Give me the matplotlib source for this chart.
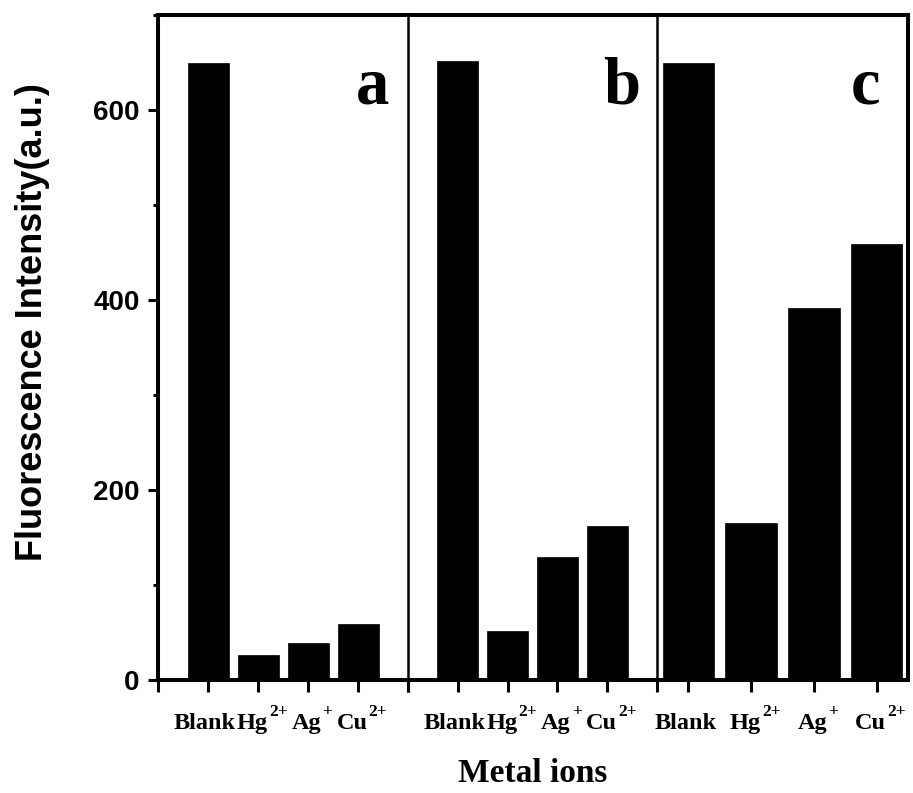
import matplotlib
matplotlib.use("Agg")
import matplotlib.pyplot as plt
from matplotlib.ticker import MultipleLocator
from matplotlib.transforms import blended_transform_factory, offset_copy

base_names = ["Blank", "Hg", "Ag", "Cu"]
charges = ["", "2+", "+", "2+"]
panel_names = ["a", "b", "c"]
values_a = [650, 26, 39, 59]
values_b = [652, 52, 130, 162]
values_c = [650, 165, 392, 459]
all_values = [values_a, values_b, values_c]

W, H = 913, 793
fig = plt.figure(figsize=(W / 100, H / 100), dpi=100)

bottom = 1 - 680 / H
height = (680 - 15) / H
panels_px = [(158, 250), (408, 249), (657, 251)]
xlims = [(0, 5), (0, 5), (0.5, 4.5)]
xticks_all = [[0, 1, 2, 3, 4, 5], [0, 1, 2, 3, 4, 5], [1, 2, 3, 4]]
letter_x = [4.3, 4.3, 3.83]

pos = [1, 2, 3, 4]
spine_lw = 2.9
label_pairs = []
for i, (vals, (lx, wd)) in enumerate(zip(all_values, panels_px)):
    ax = fig.add_axes([lx / W, bottom, wd / W, height])
    ax.bar(pos, vals, width=0.82, color='black', edgecolor='black', linewidth=0.5)
    ax.set_xlim(*xlims[i])
    ax.set_ylim(0, 700)
    ax.set_xticks(xticks_all[i])
    ax.set_xticklabels([])
    ax.tick_params(axis='x', direction='out', length=8.6, width=2.2)
    for s in ['top', 'bottom']:
        ax.spines[s].set_linewidth(spine_lw)
    if i == 0:
        ax.spines['left'].set_linewidth(spine_lw)
        ax.yaxis.set_major_locator(MultipleLocator(200))
        ax.yaxis.set_minor_locator(MultipleLocator(100))
        ax.tick_params(axis='y', which='major', direction='out', length=7.2, width=2.2, pad=6,
                       labelsize=20)
        ax.tick_params(axis='y', which='minor', direction='out', length=3.6, width=2.2)
        for lab in ax.get_yticklabels():
            lab.set_fontfamily('Liberation Sans')
            lab.set_fontweight('bold')
    else:
        ax.spines['left'].set_linewidth(1.8)
        ax.set_yticks([])
        ax.tick_params(axis='y', which='both', left=False, labelleft=False)
    if i == 2:
        ax.spines['right'].set_linewidth(spine_lw)
    else:
        ax.spines['right'].set_visible(False)
    ax.text(letter_x[i], 607, panel_names[i], ha='center', va='baseline',
            fontfamily='Liberation Serif', fontweight='bold', fontsize=48)

    trans = blended_transform_factory(ax.transData, ax.transAxes)
    for p, name, ch in zip(pos, base_names, charges):
        t1 = ax.text(p, 0, name, transform=offset_copy(trans, fig, x=0, y=-49, units='dots'),
                     ha='left', va='baseline', fontfamily='Liberation Serif',
                     fontweight='bold', fontsize=17.5, clip_on=False)
        t2 = ax.text(p, 0, ch, transform=offset_copy(trans, fig, x=0, y=-36, units='dots'),
                     ha='left', va='baseline', fontfamily='Liberation Serif',
                     fontweight='bold', fontsize=12.5, clip_on=False)
        label_pairs.append((trans, t1, t2))

fig.canvas.draw()
renderer = fig.canvas.get_renderer()
for trans, t1, t2 in label_pairs:
    w1 = t1.get_window_extent(renderer).width
    has_sup = bool(t2.get_text())
    w2 = t2.get_window_extent(renderer).width if has_sup else 0
    gap = 1 if has_sup else 0
    total = w1 + gap + w2
    shift = 4 if has_sup else -3
    x0 = -total / 2 + shift
    t1.set_transform(offset_copy(trans, fig, x=x0, y=-49, units='dots'))
    t2.set_transform(offset_copy(trans, fig, x=x0 + w1 + gap, y=-36, units='dots'))

fig.text(33 / W, 1 - 322 / H, "Fluorescence Intensity(a.u.)", rotation=90,
         ha='center', va='center', fontfamily='Liberation Sans', fontweight='bold', fontsize=26)
fig.text(533 / W, 1 - 774 / H, "Metal ions", ha='center', va='center',
         fontfamily='Liberation Serif', fontweight='bold', fontsize=24)

fig.savefig("out.png", dpi=100)
